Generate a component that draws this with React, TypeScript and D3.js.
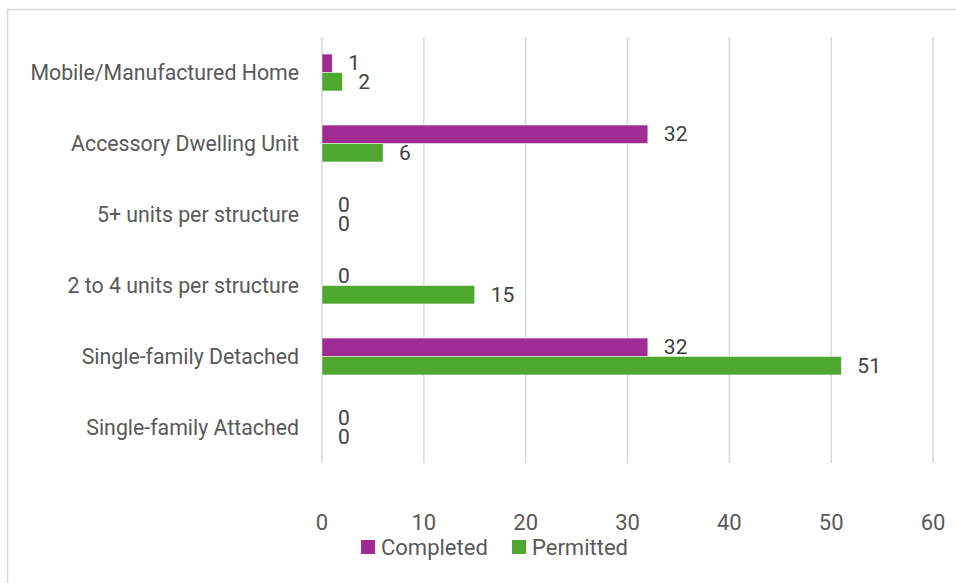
import React from "react";
import * as d3 from "d3";

const categories = [
  "Mobile/Manufactured Home",
  "Accessory Dwelling Unit",
  "5+ units per structure",
  "2 to 4 units per structure",
  "Single-family Detached",
  "Single-family Attached",
];
const seriesNames = ["Completed", "Permitted"];
const completed = [1, 32, 0, 0, 32, 0];
const permitted = [2, 6, 0, 15, 51, 0];
const colors = ["#A02B93", "#4EA72E"];
const xTicks = [0, 10, 20, 30, 40, 50, 60];

const W = 956;
const H = 583;
const FONT = "Roboto, 'Open Sans', sans-serif";

export default function App() {
  const x = d3.scaleLinear().domain([0, 60]).range([322, 933]);
  const y = d3
    .scaleBand<string>()
    .domain(categories)
    .range([37, 463])
    .paddingInner(0.48)
    .paddingOuter(0.24);
  const inner = d3
    .scaleBand<string>()
    .domain(seriesNames)
    .range([0, y.bandwidth()]);
  const values = [completed, permitted];

  return (
    <svg
      width={W}
      height={H}
      style={{ position: "absolute", left: 0, top: 0, background: "#fff" }}
      fontFamily={FONT}
    >
      <rect x={7.5} y={9.5} width={W + 10} height={H + 10} fill="#fff" stroke="#d9d9d9" strokeWidth={1.5} />

      {xTicks.map((t) => (
        <g key={t}>
          <line x1={x(t)} x2={x(t)} y1={37} y2={463} stroke="#d9d9d9" strokeWidth={1.5} />
          <text x={x(t)} y={522} textAnchor="middle" dominantBaseline="central" fontSize={22} fill="#595959">
            {t}
          </text>
        </g>
      ))}

      {categories.map((c) => (
        <text
          key={c}
          x={299}
          y={(y(c) ?? 0) + y.bandwidth() / 2}
          textAnchor="end"
          dominantBaseline="central"
          fontSize={21.3}
          fill="#595959"
        >
          {c}
        </text>
      ))}

      {seriesNames.map((s, si) =>
        categories.map((c, ci) => {
          const v = values[si][ci];
          const by = (y(c) ?? 0) + (inner(s) ?? 0);
          return (
            <g key={s + c}>
              {v > 0 && (
                <rect
                  x={x(0)}
                  y={by}
                  width={x(v) - x(0)}
                  height={inner.bandwidth()}
                  fill={colors[si]}
                  stroke="#fff"
                  strokeWidth={0.5}
                />
              )}
              <text
                x={x(v) + 16}
                y={by + inner.bandwidth() / 2}
                dominantBaseline="central"
                fontSize={21}
                fill="#404040"
              >
                {v}
              </text>
            </g>
          );
        })
      )}

      {seriesNames.map((s, si) => {
        const lx = si === 0 ? 361 : 512;
        return (
          <g key={s}>
            <rect x={lx} y={540} width={14} height={14} fill={colors[si]} />
            <text x={lx + 20} y={547} dominantBaseline="central" fontSize={22} fill="#595959">
              {s}
            </text>
          </g>
        );
      })}
    </svg>
  );
}
